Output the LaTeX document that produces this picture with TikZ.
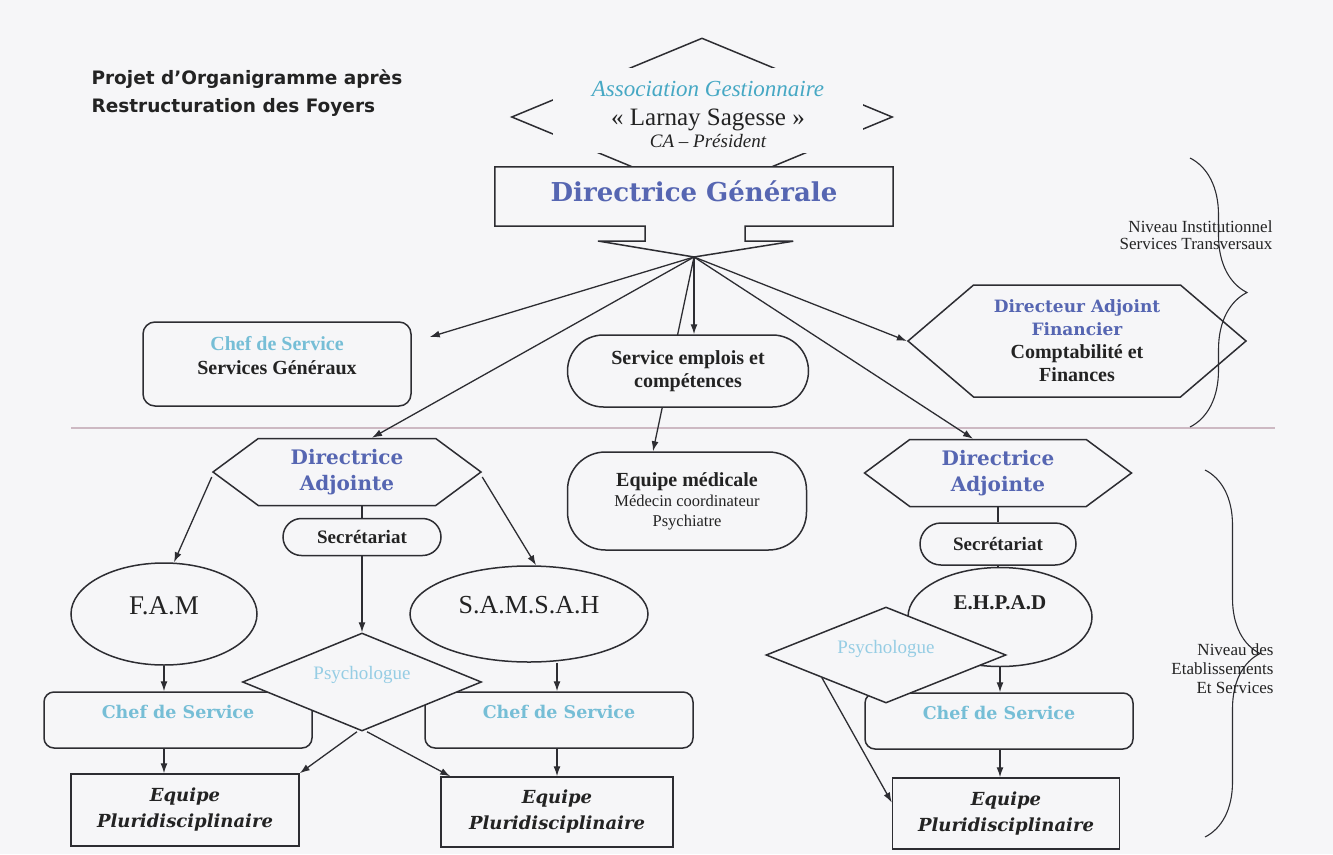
\documentclass[tikz,border=0pt]{standalone}
\usepackage{fontspec}
\setmainfont{Liberation Serif}
\newfontfamily\slabfont{DejaVu Serif}
\newfontfamily\titlefont{DejaVu Sans}
\usetikzlibrary{arrows.meta, positioning, calc}
\usetikzlibrary{shapes.geometric, shapes.symbols}
\usetikzlibrary{decorations.pathreplacing}

\definecolor{bgcol}{RGB}{246,246,248}
\definecolor{linecol}{RGB}{45,45,50}
\definecolor{textcol}{RGB}{35,35,35}
\definecolor{dirblue}{RGB}{86,102,178}
\definecolor{chefblue}{RGB}{118,190,214}
\definecolor{assoteal}{RGB}{70,168,196}
\definecolor{psyblue}{RGB}{150,205,228}
\definecolor{sepcol}{RGB}{205,185,195}

\newcommand{\setsz}[2]{\fontsize{#1}{#2}\selectfont}

\tikzset{
  shapeline/.style={draw=linecol, line width=1.5pt},
  box/.style={shapeline, fill=bgcol, inner sep=0pt, text=textcol},
  rbox/.style={box, rectangle, rounded corners=10pt},
  teambox/.style={box, rectangle, align=center, font=\slabfont\bfseries\itshape\setsz{18}{26}},
  ovalbox/.style={box, ellipse},
  psybox/.style={box, diamond, shape aspect=2.4, text=psyblue, font=\setsz{19}{22}},
  hexbox/.style={box, signal, signal to=west and east},
  chefbox/.style={rbox, minimum width=268, minimum height=56, text=chefblue,
    font=\slabfont\bfseries\setsz{17.5}{20}, text height=12.5pt, text depth=16pt},
  secbox/.style={box, rectangle, font=\bfseries\setsz{19}{22}},
  link/.style={->, draw=linecol, line width=1.3pt},
  plainlink/.style={draw=linecol, line width=1.3pt},
  lvltext/.style={align=right, anchor=east, text=textcol, font=\setsz{17}{17}},
  bracket/.style={draw=linecol, line width=1.1pt, decorate, decoration={brace, amplitude=#1}}
}

\begin{document}
\begin{tikzpicture}[x=1pt, y=-1pt, >={Latex[length=10pt,width=7pt]}]

  % fond et separation des niveaux
  \fill[bgcol] (0,0) rectangle (1333,854);
  \draw[sepcol, line width=1.2pt] (71,428) -- (1275,428);

  \node[anchor=west, align=left, text=textcol, font=\titlefont\bfseries\setsz{18.5}{28}] (title) at (88,93)
    {Projet d’Organigramme après\\Restructuration des Foyers};

  % association
  \node[diamond, shapeline, minimum width=381, minimum height=158, inner sep=0pt] (assoframe) at (702,117) {};
  \node[fill=bgcol, minimum width=310, minimum height=85, inner sep=0pt, align=center, text=textcol,
    font=\setsz{25}{29}] (asso) at (708,110)
    {{\itshape\color{assoteal}\setsz{23}{27}\rule{0pt}{25pt}Association Gestionnaire}\\
     {\setsz{25}{27}«~Larnay Sagesse~»}\\[-7pt]
     {\itshape\setsz{19}{20}CA – Président}};

  % direction generale
  \node[fill=bgcol, minimum width=398, minimum height=59, inner sep=0pt, text=dirblue,
    font=\slabfont\bfseries\setsz{26}{30}, text height=19pt, text depth=9pt] (dg) at (694,196.5) {Directrice Générale};
  \coordinate (hub) at (694,257);
  \draw[shapeline] (dg.south west) -- (dg.north west) -- (dg.north east) -- (dg.south east)
    -- ++(-148,0) -- ++(0,15) -- ++(48,0) -- (hub) -- ++(-96,-16) -- ++(47,0) -- ++(0,-15) -- cycle;

  % services transversaux
  \node[rbox, rounded corners=38pt, minimum width=239, minimum height=98, align=center, font=\setsz{16.5}{20}] (med) at (687,501)
    {{\bfseries\setsz{20}{21}Equipe médicale}\\Médecin coordinateur\\Psychiatre};
  \draw[link] (hub) -- ([xshift=-34pt]med.north);

  \node[rbox, rounded corners=36pt, minimum width=241, minimum height=72, align=center,
    font=\bfseries\setsz{20}{23}] (svc) at (688,371) {Service emplois et\\compétences};
  \draw[link] (hub) -- (hub |- svc.north);

  \node[rbox, rounded corners=12pt, minimum width=268, minimum height=84] (sg) at (277,364) {};
  \node[align=center, text=textcol, font=\bfseries\setsz{20}{24}] (sgtext) at (277,356)
    {{\color{chefblue}Chef de Service}\\Services Généraux};
  \draw[link] (hub) -- ([xshift=18pt,yshift=27pt]sg.east);

  \node[hexbox, minimum width=338, minimum height=112, signal pointer angle=81, align=center,
    font=\bfseries\setsz{20}{23}] (daf) at (1077,341)
    {{\slabfont\color{dirblue}\setsz{17}{23}Directeur Adjoint}\\{\slabfont\color{dirblue}\setsz{17}{23}Financier}\\Comptabilité et\\Finances};
  \draw[link] (hub) -- (daf.west);

  % etablissements : F.A.M et S.A.M.S.A.H
  \node[hexbox, minimum width=268, minimum height=67, signal pointer angle=73, align=center, text=dirblue,
    font=\slabfont\bfseries\setsz{20}{26}] (da1) at (347,472) {Directrice\\Adjointe};
  \node[secbox, rounded corners=18.5pt, minimum width=158, minimum height=37] (sec1) at (362,537) {Secrétariat};
  \node[ovalbox, minimum width=186, minimum height=102, font=\setsz{27}{30}, text height=18pt, text depth=18pt] (fam) at (164,614) {F.A.M};
  \node[ovalbox, minimum width=238, minimum height=96, font=\setsz{26}{30}, text height=17pt, text depth=18pt] (sam) at (529,614) {S.A.M.S.A.H};
  \node[chefbox] (cs1) at (178,720) {Chef de Service};
  \node[chefbox] (cs2) at (559,720) {Chef de Service};
  \node[teambox, minimum width=228, minimum height=72] (eq1) at (185,810) {Equipe\\Pluridisciplinaire};
  \node[teambox, minimum width=232, minimum height=70] (eq2) at (557,812) {Equipe\\Pluridisciplinaire};
  \node[psybox, minimum width=239, minimum height=98, text height=13pt, text depth=18pt] (psy1) at (362,682) {Psychologue};

  \draw[link] (hub) -- ([xshift=25pt]da1.north);
  \draw[link] ([yshift=-5pt]da1.west) -- ([xshift=10pt]fam.north);
  \draw[link] ([yshift=-5pt]da1.east) -- ([xshift=7pt]sam.north);
  \draw[plainlink] (sec1.north) -- (sec1.north |- da1.south);
  \draw[link] (sec1.south) -- (psy1.north);
  \draw[link] (fam.south) -- (fam.south |- cs1.north);
  \draw[link] (fam.south |- cs1.south) -- (fam.south |- eq1.north);
  \draw[link] (eq2.north |- sam.south) -- (eq2.north |- cs2.north);
  \draw[link] (eq2.north |- cs2.south) -- (eq2.north);
  \draw[link] ([xshift=-5pt]psy1.south) -- (eq1.north east);
  \draw[link] ([xshift=5pt]psy1.south) -- ([xshift=10pt]eq2.north west);

  % etablissements : E.H.P.A.D
  \node[hexbox, minimum width=267, minimum height=67, signal pointer angle=73, align=center, text=dirblue,
    font=\slabfont\bfseries\setsz{20}{26}] (da2) at (998,473) {Directrice\\Adjointe};
  \node[secbox, rounded corners=21pt, minimum width=156, minimum height=42, below=15pt of da2] (sec2) {Secrétariat};
  \node[ovalbox, minimum width=184, minimum height=99, font=\bfseries\setsz{21}{26}, text height=14pt, text depth=30pt] (ehp) at (1000,617) {E.H.P.A.D};
  \node[chefbox] (cs3) at (999,721) {Chef de Service};
  \node[teambox, minimum width=227, minimum height=71] (eq3) at (1006,813.5) {Equipe\\Pluridisciplinaire};
  \node[psybox, minimum width=240, minimum height=96, text height=13pt, text depth=16pt] (psy2) at (886,655) {Psychologue};

  \draw[link] (hub) -- ([xshift=-25pt]da2.north);
  \draw[plainlink] (sec2.north) -- (sec2.north |- da2.south);
  \draw[plainlink] (sec2.south) -- (sec2.south |- ehp.north);
  \draw[link] (ehp.south) -- (ehp.south |- cs3.north);
  \draw[link] (ehp.south |- cs3.south) -- (ehp.south |- eq3.north);
  \draw[link] ($(psy2.west)!0.47!(psy2.south)$) -- ([yshift=11pt]eq3.west);

  % niveaux
  \draw[bracket=57pt] (1190,158) -- (1190,427);
  \draw[bracket=55pt] (1205,470) -- (1205,837);
  \node[lvltext] (lvl1) at (1276,235) {Niveau Institutionnel\\Services Transversaux};
  \node[lvltext, font=\setsz{17}{19}] (lvl2) at (1277,669) {Niveau des\\Etablissements\\Et Services};
\end{tikzpicture}
\end{document}
